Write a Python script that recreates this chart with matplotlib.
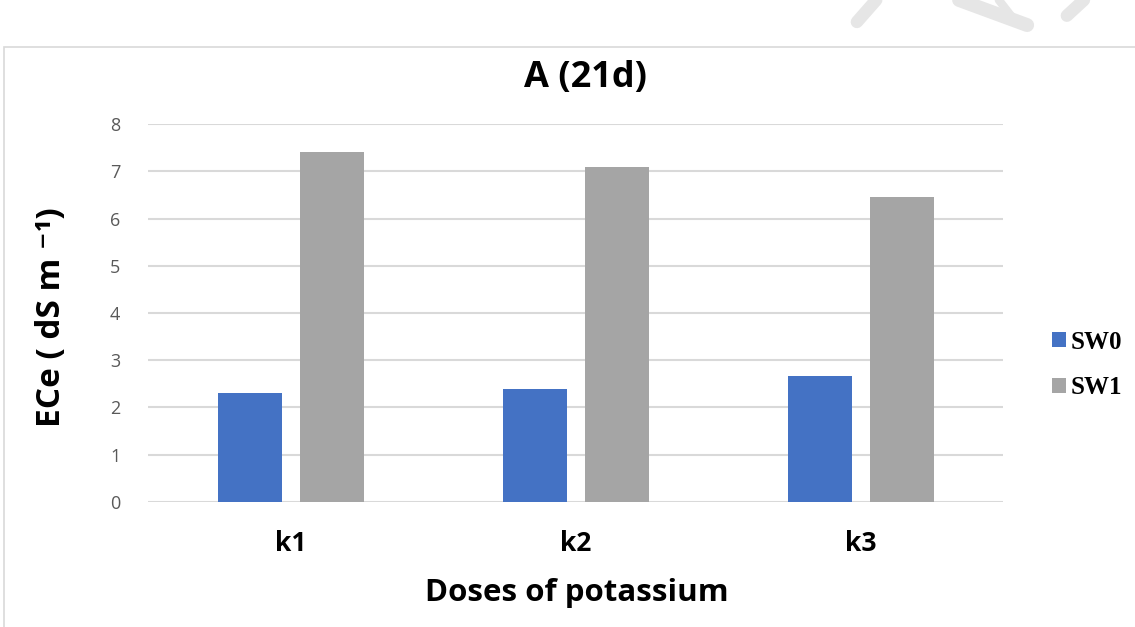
import numpy as np
import matplotlib.pyplot as plt
from matplotlib.patches import Rectangle
from matplotlib.lines import Line2D

# Datos: ECe a los 21 dias por dosis de potasio
dosis = ['k1', 'k2', 'k3']
sw0 = [2.3, 2.4, 2.67]
sw1 = [7.4, 7.08, 6.46]
series = ['SW0', 'SW1']
colores = ['#4472C4', '#A5A5A5']
yticks = [0, 1, 2, 3, 4, 5, 6, 7, 8]

fig = plt.figure(figsize=(11.35, 6.27), dpi=100)
ax = fig.add_axes([0.1304, 0.1994, 0.7533, 0.6028])

x = np.arange(len(dosis))
ancho = 0.225
ax.bar(x - 0.143, sw0, ancho, color=colores[0], label=series[0], zorder=3)
ax.bar(x + 0.145, sw1, ancho, color=colores[1], label=series[1], zorder=3)

ax.set_xlim(-0.5, 2.5)
ax.set_ylim(0, 8)
ax.set_yticks(yticks)
ax.yaxis.grid(True, color='#D9D9D9', linewidth=1.5, zorder=0)
for s in ax.spines.values():
    s.set_visible(False)
ax.tick_params(axis='both', length=0)
ax.tick_params(axis='y', labelsize=13, labelcolor='#595959', pad=20)
ax.set_xticks(x)
ax.set_xticklabels(dosis, fontsize=19, fontweight='bold', family='Open Sans')
ax.tick_params(axis='x', pad=20)
for lab in ax.get_yticklabels():
    lab.set_family('Open Sans')

# Titulo y ejes
fig.text(0.516, 0.876, 'A (21d)', ha='center', va='center',
         fontsize=26, fontweight='bold', family='Open Sans')
fig.text(0.508, 0.054, 'Doses of potassium', ha='center', va='center',
         fontsize=22.5, fontweight='bold', family='Open Sans')
fig.text(0.045, 0.494, 'ECe ( dS m \u207b\u00b9)', ha='center', va='center',
         rotation=90, fontsize=24, fontweight='bold',
         family=['Open Sans', 'DejaVu Sans'])

# Leyenda a la derecha
leg = fig.legend(loc='center left', bbox_to_anchor=(0.907, 0.418),
                 frameon=False, handlelength=0.55, handleheight=0.55,
                 handletextpad=0.2, labelspacing=0.9,
                 prop={'family': 'Liberation Serif', 'weight': 'bold', 'size': 18})

# Marco del grafico
fig.add_artist(Rectangle((0.0035, -0.05), 1.05, 1.0245 - 0.05,
                         transform=fig.transFigure, fill=False,
                         edgecolor='#D9D9D9', linewidth=1.2))

# Trazos grises de fondo arriba a la derecha
for xs, ys, lw in [([0.772, 0.755], [1.0, 0.965], 9),
                   ([0.845, 0.905], [1.0, 0.96], 10),
                   ([0.88, 0.895], [1.0, 0.965], 6),
                   ([0.955, 0.94], [1.0, 0.975], 9)]:
    fig.add_artist(Line2D(xs, ys, transform=fig.transFigure,
                          color='#E6E6E6', linewidth=lw, solid_capstyle='round'))

plt.savefig('out.png', dpi=100)
